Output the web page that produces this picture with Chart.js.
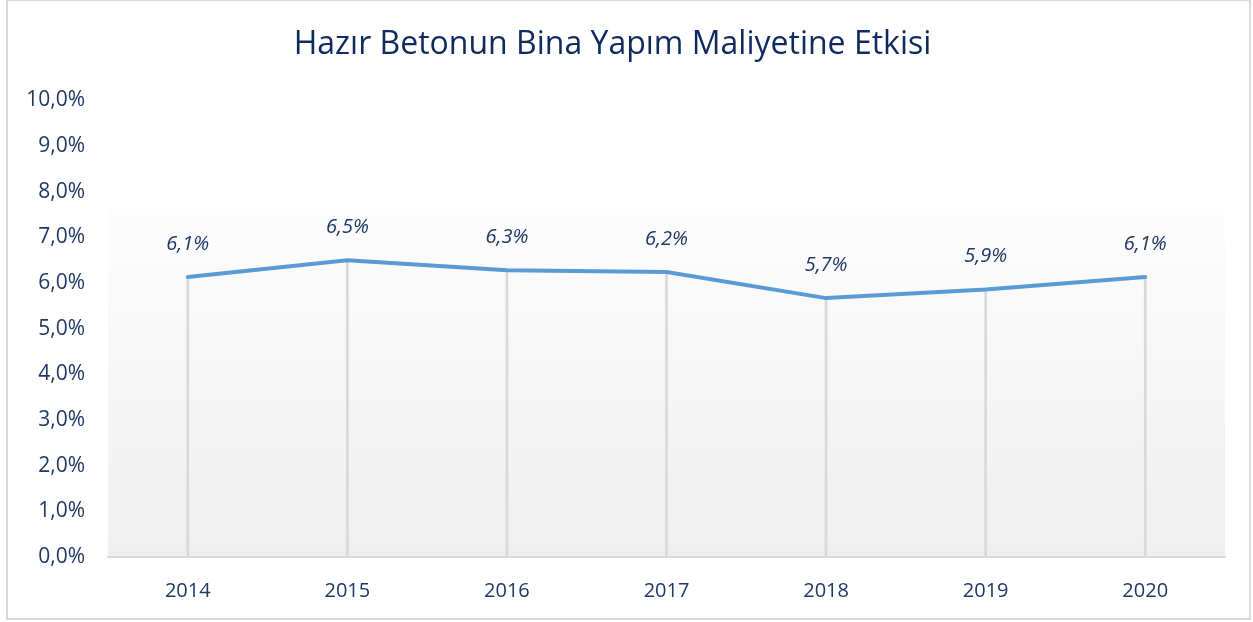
<!DOCTYPE html>
<html>
<head>
<meta charset="utf-8">
<script src="https://cdn.jsdelivr.net/npm/chart.js@4/dist/chart.umd.min.js"></script>
<style>
  html, body { margin: 0; padding: 0; background: #ffffff; }
  #wrap { position: absolute; left: 0; top: 0; width: 1253px; height: 622px; }
</style>
</head>
<body>
<div id="wrap"><canvas id="costChart" width="1253" height="622"></canvas></div>
<script>
// Data
const years = ["2014", "2015", "2016", "2017", "2018", "2019", "2020"];
const costShare = [6.13, 6.50, 6.28, 6.24, 5.67, 5.86, 6.13];
const yTicks = [0, 1, 2, 3, 4, 5, 6, 7, 8, 9, 10];

const navy = "#1f3864";
const fontFamily = "'Open Sans', sans-serif";
const shadeFrom = 7.65; // plot background starts a bit below the top tick
const fmt = v => v.toFixed(1).replace(".", ",") + "%";

// Frame around the chart and gradient behind the plot area
const backgroundPlugin = {
    id: "backgroundPlugin",
    beforeDraw(chart) {
        const { ctx, chartArea } = chart;
        const top = chart.scales.y.getPixelForValue(shadeFrom);
        ctx.save();
        ctx.fillStyle = "#ffffff";
        ctx.fillRect(0, 0, chart.width, chart.height);
        ctx.strokeStyle = "#d9d9d9";
        ctx.lineWidth = 2;
        ctx.strokeRect(7, 0, chart.width - 10, chart.height - 3);
        const grad = ctx.createLinearGradient(0, top, 0, chartArea.bottom);
        grad.addColorStop(0, "#fdfdfd");
        grad.addColorStop(1, "#efefef");
        ctx.fillStyle = grad;
        ctx.fillRect(chartArea.left, top, chartArea.right - chartArea.left, chartArea.bottom - top);
        ctx.restore();
    }
};

// Italic value labels above the line points
const valueLabels = {
    id: "valueLabels",
    afterDatasetsDraw(chart) {
        const { ctx } = chart;
        const meta = chart.getDatasetMeta(0);
        const values = chart.data.datasets[0].data;
        ctx.save();
        ctx.fillStyle = navy;
        ctx.font = "italic 20px " + fontFamily;
        ctx.textAlign = "center";
        ctx.textBaseline = "middle";
        meta.data.forEach((pt, i) => {
            ctx.fillText(fmt(values[i]), pt.x, pt.y - 33);
        });
        ctx.restore();
    }
};

const ctx = document.getElementById("costChart").getContext("2d");
new Chart(ctx, {
    data: {
        labels: years,
        datasets: [
            {
                type: "line",
                data: costShare,
                borderColor: "#5b9bd5",
                borderWidth: 4,
                borderCapStyle: "round",
                borderJoinStyle: "round",
                pointRadius: 0,
                tension: 0,
                fill: false
            },
            {
                // drop lines from each point down to the axis
                type: "bar",
                data: costShare,
                backgroundColor: "#d9d9d9",
                barThickness: 2
            }
        ]
    },
    options: {
        responsive: false,
        animation: false,
        layout: { padding: { top: 0, right: 28, bottom: 0, left: 0 } },
        plugins: {
            legend: { display: false },
            tooltip: { enabled: false },
            title: {
                display: true,
                text: "Hazır Betonun Bina Yapım Maliyetine Etkisi",
                color: "#0f2a5f",
                font: { family: fontFamily, size: 32, weight: "normal" },
                padding: { top: 26, bottom: 36 }
            }
        },
        scales: {
            x: {
                offset: true,
                grid: { display: false, drawTicks: false },
                border: { display: true, color: "#d9d9d9", width: 2 },
                ticks: {
                    color: navy,
                    font: { family: fontFamily, size: 20 },
                    padding: 22
                },
                afterFit(scale) { scale.height = 65; }
            },
            y: {
                min: 0,
                max: 10,
                grid: { display: false, drawTicks: false },
                border: { display: false },
                afterBuildTicks(scale) { scale.ticks = yTicks.map(v => ({ value: v })); },
                ticks: {
                    color: navy,
                    font: { family: fontFamily, size: 21 },
                    padding: 23,
                    callback: v => fmt(v)
                },
                afterFit(scale) { scale.width = 108; }
            }
        }
    },
    plugins: [backgroundPlugin, valueLabels]
});
</script>
</body>
</html>
